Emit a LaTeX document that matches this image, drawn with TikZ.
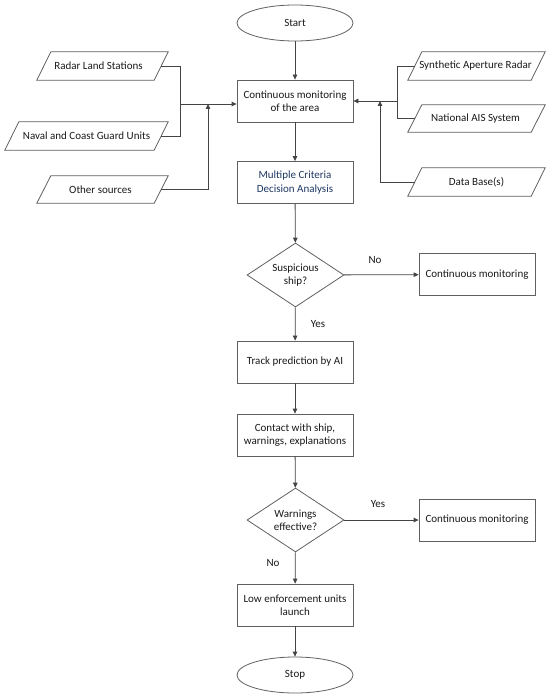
\documentclass[tikz,border=0pt]{standalone}
\usepackage{fontspec}
\setmainfont{Carlito}
\usetikzlibrary{arrows.meta,shapes.geometric,calc}
\definecolor{ln}{HTML}{444444}
\definecolor{bd}{HTML}{606060}
\definecolor{tx}{HTML}{1A1A1A}
\definecolor{navy}{HTML}{1F3864}
\begin{document}
\begin{tikzpicture}[x=1pt,y=-1pt,
  font=\fontsize{11}{13.5}\selectfont, text=tx,
  box/.style={draw=bd, line width=0.8pt, minimum width=116pt, minimum height=42pt, align=center, inner sep=2pt},
  term/.style={draw=bd, line width=0.8pt, ellipse, minimum width=116pt, minimum height=36pt, inner sep=0pt},
  dec/.style={draw=bd, line width=0.8pt, diamond, minimum width=97pt, minimum height=64pt, align=center, inner sep=0pt, aspect=1.5},
  para/.style={draw=none, minimum height=28pt, inner sep=0pt},
  pline/.style={draw=bd, line width=0.8pt},
  con/.style={draw=ln, line width=0.8pt},
  arr/.style={con, -{Triangle[width=4.5pt,length=5pt]}},
  lab/.style={inner sep=1pt}
]
\useasboundingbox (0,0) rectangle (550,698);
\fill[white] (0,0) rectangle (550,698);

% main column
\node[term] (start) at (295,23) {Start};
\node[box] (cm) at (295,101) {Continuous monitoring\\of the area};
\node[box, text=navy] (mcda) at (295,182.5) {Multiple Criteria\\Decision Analysis};
\node[dec] (d1) at (295.5,275) {Suspicious\\ship?};
\node[box] (cm1) at (477,274.5) {Continuous monitoring};
\node[box] (track) at (295,362) {Track prediction by AI};
\node[box] (contact) at (295,435) {Contact with ship,\\warnings, explanations};
\node[dec] (d2) at (295.5,520) {Warnings\\effective?};
\node[box] (cm2) at (477,520) {Continuous monitoring};
\node[box] (low) at (295,605) {Low enforcement units\\launch};
\node[term] (stop) at (295,675) {Stop};

% parallelogram sources
\node[para, minimum width=131pt] (radar) at (102.5,66) {};
\node[para, minimum width=163pt] (naval) at (86.5,136) {};
\node[para, minimum width=131pt, minimum height=27pt] (other) at (102.5,189.5) {};
\node[para, minimum width=137pt] (sar) at (476.5,66) {};
\node[para, minimum width=137pt, minimum height=27pt] (ais) at (476.5,118.5) {};
\node[para, minimum width=137pt] (db) at (476.5,182) {};
\foreach \n in {radar,naval,other,sar,ais,db}{
  \draw[pline] (\n.south west) -- ([xshift=14pt]\n.north west) -- (\n.north east) -- ([xshift=-14pt]\n.south east) -- cycle;
}
\node at ([xshift=-4pt]radar.center) {Radar Land Stations};
\node at ([xshift=0pt]naval.center) {Naval and Coast Guard Units};
\node at ([xshift=-2pt]other.center) {Other sources};
\node at ([xshift=-1pt]sar.center) {Synthetic Aperture Radar};
\node at ([xshift=-1pt]ais.center) {National AIS System};
\node at ([xshift=0pt]db.center) {Data Base(s)};

\coordinate (radar-e) at ([xshift=-7pt]radar.east);
\coordinate (naval-e) at ([xshift=-7pt]naval.east);
\coordinate (other-e) at ([xshift=-7pt]other.east);
\coordinate (sar-w) at ([xshift=7pt]sar.west);
\coordinate (ais-w) at ([xshift=7pt]ais.west);
\coordinate (db-w) at ([xshift=7pt]db.west);
\coordinate (jl) at (180,104);
\coordinate (jl2) at (208,104);
\coordinate (jr) at (397,101);
\coordinate (jr2) at (380,101);

% left connectors
\draw[con] (radar-e) -| (jl |- naval-e) -- (naval-e);
\draw[arr] (jl |- radar-e) -- (jl) -- (cm.west |- jl);
\draw[arr] (other-e) -| (jl2);
% right connectors
\draw[con] (sar-w) -| (jr |- ais-w) -- (ais-w);
\draw[arr] (jr) -- (cm.east |- jr);
\draw[arr] (db-w) -| (jr2);

% main flow
\draw[arr] (start) -- (cm);
\draw[arr] (cm) -- (mcda);
\draw[arr] (mcda) -- (d1);
\draw[arr] (d1) -- (cm1);
\node[lab] (no1) at (375,260) {No};
\draw[arr] (d1) -- (track);
\node[lab] (yes1) at (318,324) {Yes};
\draw[arr] (track) -- (contact);
\draw[arr] (contact) -- (d2);
\draw[arr] (d2) -- (cm2);
\node[lab] (yes2) at (378,504) {Yes};
\draw[arr] (d2) -- (low);
\node[lab] (no2) at (273,563) {No};
\draw[arr] (low) -- (stop);
\end{tikzpicture}
\end{document}
